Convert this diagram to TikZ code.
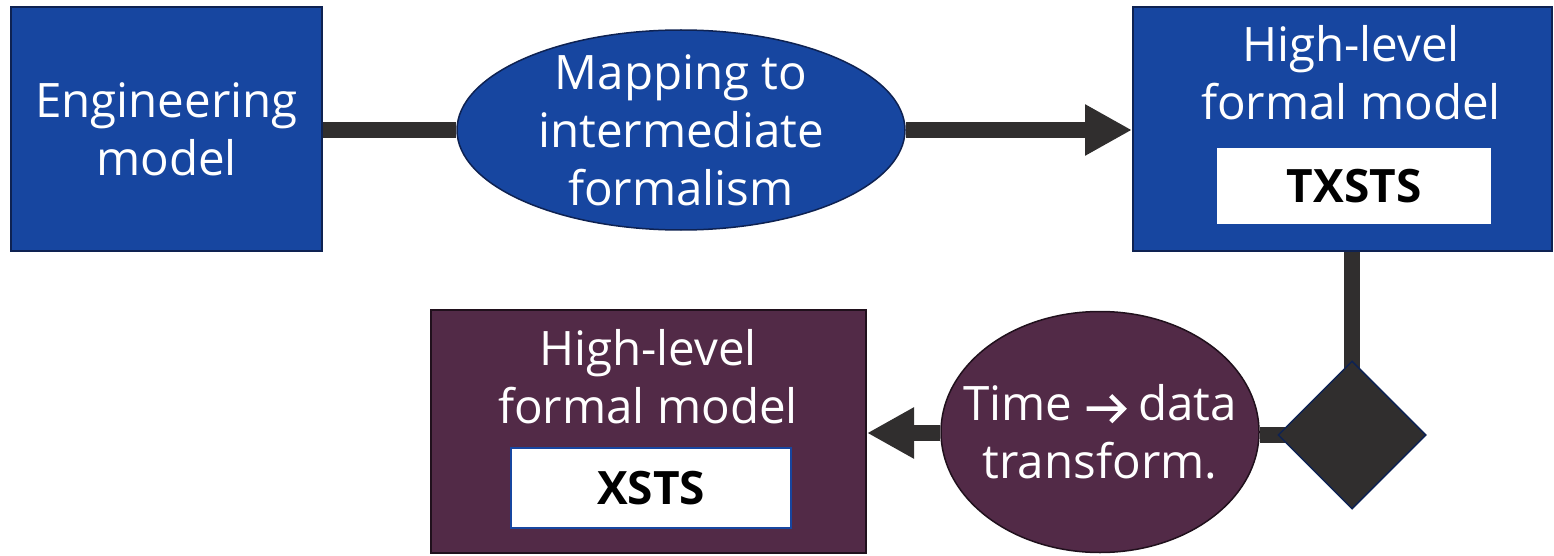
\documentclass[tikz,border=0pt]{standalone}
\usepackage{fontspec}
\setmainfont{Open Sans}
\usetikzlibrary{shapes.geometric,arrows.meta,backgrounds}
\definecolor{navyfill}{RGB}{23,70,160}
\definecolor{navyedge}{RGB}{14,34,82}
\definecolor{plumfill}{RGB}{82,42,71}
\definecolor{plumedge}{RGB}{32,16,28}
\definecolor{connector}{RGB}{48,46,46}
% bold chevron arrow used inside the transformation label
\newcommand{\timearrow}{\tikz[baseline=-12pt]{\draw[white, line width=4.5pt, miter limit=10]
  (0pt,0pt) -- (37pt,0pt) (24pt,13pt) -- (37pt,0pt) -- (24pt,-13pt);}}
\tikzset{
  txt/.style={font=\fontsize{47.5}{58}\selectfont, text=white, align=center, inner sep=0pt},
  bluebox/.style={draw=navyedge, line width=2pt, fill=navyfill, inner sep=0pt},
  plumbox/.style={draw=plumedge, line width=2pt, fill=plumfill, inner sep=0pt},
  bluestep/.style={ellipse, draw=navyedge, line width=1.5pt, fill=navyfill, inner sep=0pt},
  plumstep/.style={ellipse, draw=plumedge, line width=1.5pt, fill=plumfill, inner sep=0pt},
  tag/.style={draw=navyfill, line width=1.5pt, fill=white, text=black, inner sep=0pt,
    font=\fontsize{46}{58}\selectfont\bfseries},
  link/.style={draw=connector, line width=16pt},
  flow/.style={link, -{Triangle[length=47pt, width=48pt]}},
}
\begin{document}
\begin{tikzpicture}[x=1pt, y=-1pt]
\useasboundingbox (0,0) rectangle (1554,556);

% upper row
\node[bluebox, minimum width=311pt, minimum height=244pt] (eng) at (166.5,129) {};
\node[txt] (engtext) at (eng.center) {Engineering\\model};

\node[bluestep, minimum width=448pt, minimum height=200pt] (map) at (681,130) {};
\node[txt] (maptext) at (map.center) {Mapping to\\intermediate\\formalism};

\node[bluebox, minimum width=419pt, minimum height=244pt] (hl) at (1342.5,129) {};
\node[txt] (hltext) at (1351,73) {High-level\\formal model};
\node[tag, minimum width=276pt, minimum height=78pt] (txsts) at (1354,186) {TXSTS};

% lower row
\node[draw=navyedge, line width=1.5pt, fill=connector, diamond, aspect=1,
      minimum width=148pt, minimum height=148pt, inner sep=0pt] (merge) at (1352,435) {};

\node[plumstep, minimum width=318pt, minimum height=241pt] (conv) at (1100,432) {};
\node[txt] (convtext) at (1100,432) {Time \timearrow{} data\\transform.};

\node[plumbox, minimum width=435pt, minimum height=243pt] (low) at (648.5,431.5) {};
\node[txt] (lowtext) at (648,377) {High-level\\formal model};
\node[tag, minimum width=280pt, minimum height=80pt] (xsts) at (651,488) {XSTS};

% connectors, kept beneath the shapes
\begin{pgfonlayer}{background}
\draw[link] (eng.east |- 0,130) -- (map.west |- 0,130);
\draw[flow] (map.east |- 0,130) -- (hl.west |- 0,130);
\draw[link] (merge.center |- hl.south) -- (merge.center);
\draw[link] (merge.center) -- (conv.east |- merge.center);
\draw[flow] (conv.west |- 0,433) -- (low.east |- 0,433);
\end{pgfonlayer}
\end{tikzpicture}
\end{document}
